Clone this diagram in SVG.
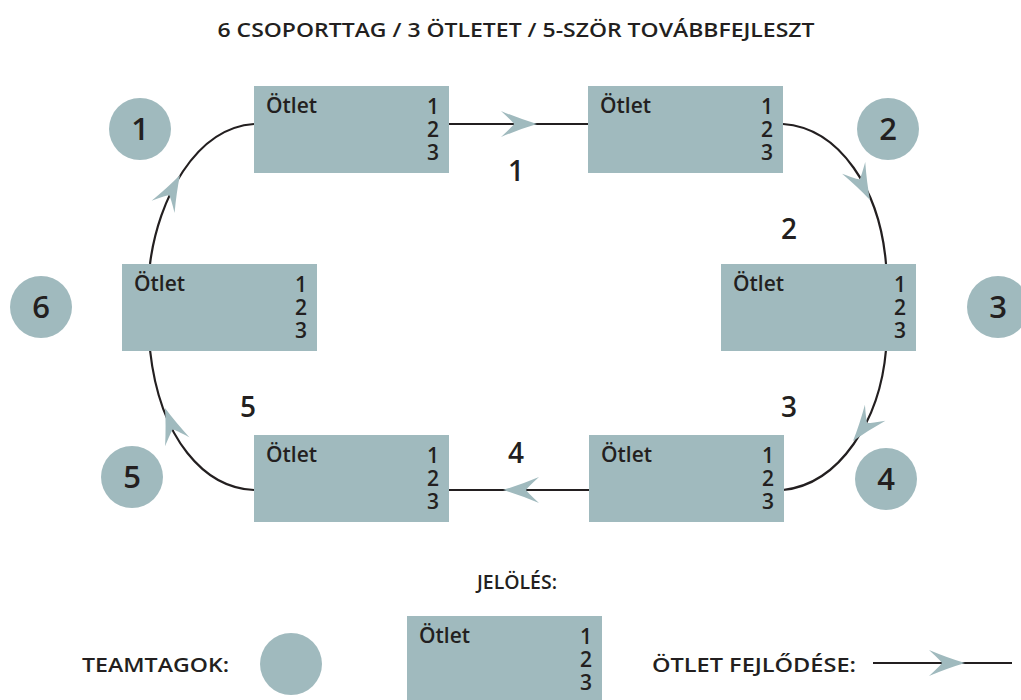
<svg xmlns="http://www.w3.org/2000/svg" width="1021" height="700" viewBox="0 0 1021 700">
<style>
.box{fill:#a0babe}
.circ{fill:#a0babe}
.t{font-family:"Open Sans","Noto Sans","Liberation Sans",sans-serif;font-weight:600;fill:#231f20}
.lbl{font-size:21px}
.num{font-size:21px;text-anchor:end}
.cn{font-size:31px;text-anchor:middle}
.el{font-size:28px;text-anchor:middle}
.line{fill:none;stroke:#231f20;stroke-width:2.2}
.ah{fill:#a0babe}
.leg{font-size:19px}
</style>
<defs>
<path id="ah" d="M0,0 Q-17,-5 -36,-13 Q-24,-2 -23,0 Q-24,2 -36,13 Q-17,5 0,0 Z"/>
<g id="boxcontent">
<rect class="box" x="0" y="0" width="195" height="87"/>
<text class="t lbl" x="12" y="27">Ötlet</text>
<text class="t num" x="185" y="28">1</text>
<text class="t num" x="185" y="51">2</text>
<text class="t num" x="185" y="74">3</text>
</g>
</defs>
<rect width="1021" height="700" fill="#ffffff"/>
<text class="t" x="516" y="37" font-size="19.5" text-anchor="middle" textLength="597" lengthAdjust="spacingAndGlyphs">6 CSOPORTTAG / 3 ÖTLETET / 5-SZÖR TOVÁBBFEJLESZT</text>

<g id="connectors">
<path class="line" d="M448,124 L588,124"/>
<path class="line" d="M783,124 C840,128 880,190 886,264"/>
<path class="line" d="M886,350 C880,420 840,484 783,490"/>
<path class="line" d="M589,490 L448,490"/>
<path class="line" d="M254,490 C205,488 160,440 150,350"/>
<path class="line" d="M150,264 C158,200 195,128 254,124"/>
<use href="#ah" class="ah" transform="translate(537,124)"/>
<use href="#ah" class="ah" transform="translate(870,200) rotate(63)"/>
<use href="#ah" class="ah" transform="translate(853,441) rotate(128)"/>
<use href="#ah" class="ah" transform="translate(503,490) rotate(180)"/>
<use href="#ah" class="ah" transform="translate(165,408) rotate(-110)"/>
<use href="#ah" class="ah" transform="translate(180,175) rotate(-62)"/>
<text class="t el" x="516" y="181">1</text>
<text class="t el" x="789" y="239">2</text>
<text class="t el" x="789" y="417">3</text>
<text class="t el" x="516" y="463">4</text>
<text class="t el" x="248" y="417">5</text>
</g>

<g id="box1"><use href="#boxcontent" transform="translate(254,86)"/></g>
<g id="box2"><use href="#boxcontent" transform="translate(588,86)"/></g>
<g id="box3"><use href="#boxcontent" transform="translate(721,264)"/></g>
<g id="box4"><use href="#boxcontent" transform="translate(589,435)"/></g>
<g id="box5"><use href="#boxcontent" transform="translate(254,435)"/></g>
<g id="box6"><use href="#boxcontent" transform="translate(122,264)"/></g>

<g id="member1"><circle class="circ" cx="140" cy="129" r="31"/><text class="t cn" x="140" y="140">1</text></g>
<g id="member2"><circle class="circ" cx="888" cy="129" r="31"/><text class="t cn" x="888" y="140">2</text></g>
<g id="member3"><circle class="circ" cx="998" cy="307" r="31"/><text class="t cn" x="998" y="318">3</text></g>
<g id="member4"><circle class="circ" cx="886" cy="479" r="31"/><text class="t cn" x="886" y="490">4</text></g>
<g id="member5"><circle class="circ" cx="132" cy="477" r="31"/><text class="t cn" x="132" y="488">5</text></g>
<g id="member6"><circle class="circ" cx="41" cy="307" r="31"/><text class="t cn" x="41" y="318">6</text></g>

<g id="legend">
<text class="t leg" x="517" y="589" text-anchor="middle" textLength="80" lengthAdjust="spacingAndGlyphs">JELÖLÉS:</text>
<text class="t leg" x="82" y="672" textLength="147" lengthAdjust="spacingAndGlyphs">TEAMTAGOK:</text>
<circle class="circ" cx="291" cy="664" r="31"/>
<use href="#boxcontent" transform="translate(407,616)"/>
<text class="t leg" x="652" y="672" textLength="204" lengthAdjust="spacingAndGlyphs">ÖTLET FEJLŐDÉSE:</text>
<path class="line" d="M873,663 L1012,663"/>
<use href="#ah" class="ah" transform="translate(965,663)"/>
</g>
</svg>
